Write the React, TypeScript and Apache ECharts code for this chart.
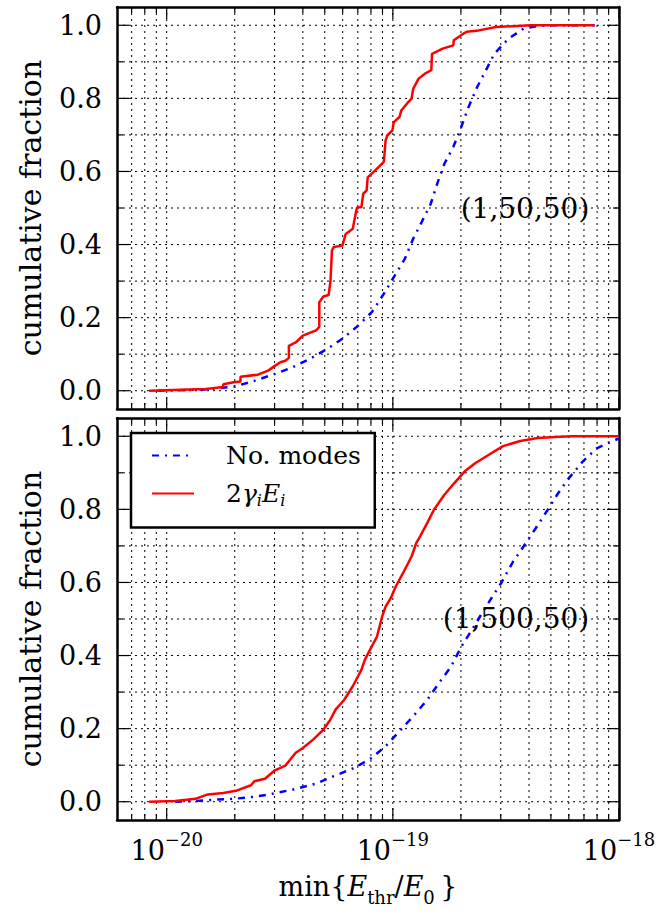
import React, { useEffect, useRef } from "react";
import * as echarts from "echarts";

// ---- axes ----
const X_MIN = 6.03e-21;
const X_MAX = 1e-18;
const Y_MIN = -0.05;
const Y_MAX = 1.05;
const X_MAJOR = [1e-20, 1e-19, 1e-18];
const X_MINOR = [
  7e-21, 8e-21, 9e-21,
  2e-20, 3e-20, 4e-20, 5e-20, 6e-20, 7e-20, 8e-20, 9e-20,
  2e-19, 3e-19, 4e-19, 5e-19, 6e-19, 7e-19, 8e-19, 9e-19,
];
const Y_MAJOR = [0, 0.2, 0.4, 0.6, 0.8, 1.0];
const Y_MINOR = [0.1, 0.3, 0.5, 0.7, 0.9];

const SERIES_NAMES = ["No. modes", "2γᵢEᵢ"];
const PANEL_LABELS = ["(1,50,50)", "(1,500,50)"];
const Y_LABEL = "cumulative fraction";

// ---- data: top panel (1,50,50) ----
const NO_MODES_TOP: [number, number][] = [
  [9.12e-21, 0], [1.44e-20, 0.003], [1.98e-20, 0.011], [2.44e-20, 0.027],
  [3.01e-20, 0.046], [3.6e-20, 0.064], [4.29e-20, 0.087], [5.11e-20, 0.114],
  [5.98e-20, 0.142], [7.02e-20, 0.178], [8.07e-20, 0.215], [9.12e-20, 0.265],
  [1.01e-19, 0.311], [1.13e-19, 0.361], [1.23e-19, 0.416], [1.34e-19, 0.461],
  [1.47e-19, 0.511], [1.57e-19, 0.566], [1.69e-19, 0.621], [1.85e-19, 0.667],
  [1.98e-19, 0.712], [2.16e-19, 0.776], [2.36e-19, 0.831], [2.58e-19, 0.877],
  [2.81e-19, 0.922], [3.24e-19, 0.963], [3.79e-19, 0.991], [4.37e-19, 0.998],
  [4.84e-19, 1.0], [7.8e-19, 1.0],
];
const GAMMA_E_TOP: [number, number][] = [
  [8.36e-21, 0], [1.49e-20, 0.005], [1.78e-20, 0.01], [1.78e-20, 0.018],
  [1.98e-20, 0.023], [2.12e-20, 0.025], [2.12e-20, 0.038], [2.53e-20, 0.044],
  [2.81e-20, 0.055], [3.01e-20, 0.068], [3.18e-20, 0.078], [3.35e-20, 0.082],
  [3.47e-20, 0.09], [3.47e-20, 0.123], [3.72e-20, 0.132], [4.0e-20, 0.151],
  [4.6e-20, 0.166], [4.73e-20, 0.175], [4.73e-20, 0.242], [4.93e-20, 0.258],
  [5.2e-20, 0.262], [5.3e-20, 0.3], [5.38e-20, 0.384], [5.48e-20, 0.393],
  [5.98e-20, 0.397], [6.19e-20, 0.429], [6.65e-20, 0.443], [6.89e-20, 0.493],
  [6.97e-20, 0.502], [7.26e-20, 0.502], [7.4e-20, 0.539], [7.66e-20, 0.548],
  [7.74e-20, 0.584], [8.36e-20, 0.603], [9.12e-20, 0.626], [9.29e-20, 0.685],
  [9.46e-20, 0.699], [9.95e-20, 0.712], [1.01e-19, 0.735], [1.07e-19, 0.749],
  [1.09e-19, 0.767], [1.17e-19, 0.79], [1.21e-19, 0.799], [1.23e-19, 0.826],
  [1.3e-19, 0.854], [1.39e-19, 0.868], [1.48e-19, 0.877], [1.49e-19, 0.922],
  [1.66e-19, 0.936], [1.85e-19, 0.945], [1.86e-19, 0.959], [2.05e-19, 0.977],
  [2.12e-19, 0.982], [2.4e-19, 0.986], [2.86e-19, 0.995], [4.06e-19, 1.0],
  [7.8e-19, 1.0],
];

// ---- data: bottom panel (1,500,50) ----
const NO_MODES_BOTTOM: [number, number][] = [
  [1.09e-20, 0], [1.34e-20, 0.002], [1.66e-20, 0.006], [1.98e-20, 0.008],
  [2.48e-20, 0.014], [3.01e-20, 0.023], [3.72e-20, 0.035], [4.6e-20, 0.05],
  [5.48e-20, 0.07], [6.78e-20, 0.093], [8.07e-20, 0.12], [9.29e-20, 0.152],
  [1.07e-19, 0.193], [1.23e-19, 0.234], [1.42e-19, 0.279], [1.6e-19, 0.325],
  [1.81e-19, 0.37], [2.01e-19, 0.425], [2.24e-19, 0.471], [2.48e-19, 0.516],
  [2.76e-19, 0.562], [3.01e-19, 0.598], [3.41e-19, 0.658], [3.79e-19, 0.699],
  [4.29e-19, 0.749], [4.84e-19, 0.799], [5.38e-19, 0.844], [5.98e-19, 0.884],
  [6.89e-19, 0.93], [7.93e-19, 0.966], [8.81e-19, 0.98], [1.0e-18, 0.994],
];
const GAMMA_E_BOTTOM: [number, number][] = [
  [8.36e-21, 0], [1.09e-20, 0.002], [1.34e-20, 0.008], [1.52e-20, 0.02],
  [1.78e-20, 0.024], [2.05e-20, 0.031], [2.36e-20, 0.045], [2.44e-20, 0.056],
  [2.72e-20, 0.063], [3.01e-20, 0.086], [3.35e-20, 0.099], [3.72e-20, 0.134],
  [4.0e-20, 0.147], [4.44e-20, 0.17], [4.93e-20, 0.197], [5.3e-20, 0.225],
  [5.58e-20, 0.252], [6.1e-20, 0.279], [6.65e-20, 0.316], [7.26e-20, 0.361],
  [7.52e-20, 0.388], [8.07e-20, 0.425], [8.51e-20, 0.452], [8.97e-20, 0.507],
  [9.29e-20, 0.534], [9.79e-20, 0.557], [1.03e-19, 0.589], [1.11e-19, 0.626],
  [1.21e-19, 0.671], [1.27e-19, 0.708], [1.32e-19, 0.726], [1.42e-19, 0.763],
  [1.52e-19, 0.799], [1.69e-19, 0.84], [1.87e-19, 0.872], [2.08e-19, 0.904],
  [2.32e-19, 0.927], [2.67e-19, 0.95], [3.07e-19, 0.973], [3.66e-19, 0.987],
  [4.37e-19, 0.995], [5.2e-19, 0.998], [6.19e-19, 1.0], [1.0e-18, 1.0],
];

const FONT = "'DejaVu Serif', serif";
const BLUE = "#0000ff";
const RED = "#ff0000";
const GRIDS = [
  { left: 117, top: 7, width: 502, height: 402 },
  { left: 117, top: 418, width: 502, height: 402 },
];
const MAJOR_LEN = 12;
const MINOR_LEN = 6;

const supMinus = (n: number) => (n < 0 ? "\u2212" + Math.abs(n) : String(n));
const frameLine = { show: true, onZero: false, lineStyle: { color: "#000", width: 2.5 } };

function xAxesFor(gi: number, showLabels: boolean) {
  const base = {
    type: "log",
    gridIndex: gi,
    min: X_MIN,
    max: X_MAX,
    splitLine: { show: false },
    axisTick: { show: false },
    axisLabel: { show: false },
    axisLine: frameLine,
  };
  const bottom: any = { ...base, position: "bottom" };
  if (showLabels) {
    bottom.axisLabel = {
      show: true,
      customValues: X_MAJOR,
      margin: 10,
      formatter: (v: number) => `{b|10}{s|${supMinus(Math.round(Math.log10(v)))}}`,
      rich: {
        b: { fontFamily: FONT, fontSize: 27, color: "#000", lineHeight: 34, verticalAlign: "bottom" },
        s: { fontFamily: FONT, fontSize: 18, color: "#000", lineHeight: 18, verticalAlign: "top" },
      },
    };
    bottom.name = "{n|min{}{it|E}{sub|thr}{n|/}{it|E}{sub|0}{n|\u2009}}";
    bottom.nameLocation = "middle";
    bottom.nameGap = 46;
    bottom.nameTextStyle = {
      fontFamily: FONT,
      fontSize: 27,
      color: "#000",
      rich: {
        n: { fontFamily: FONT, fontSize: 27, color: "#000", lineHeight: 40, verticalAlign: "middle" },
        it: { fontFamily: FONT, fontStyle: "italic", fontSize: 27, color: "#000", lineHeight: 40, verticalAlign: "middle" },
        sub: { fontFamily: FONT, fontSize: 18, color: "#000", lineHeight: 18, verticalAlign: "bottom" },
      },
    };
  }
  return [bottom, { ...base, position: "top" }];
}

function yAxesFor(gi: number) {
  const base = {
    type: "value",
    gridIndex: gi,
    min: Y_MIN,
    max: Y_MAX,
    splitLine: { show: false },
    axisTick: { show: false },
    axisLabel: { show: false },
    axisLine: frameLine,
  };
  return [
    {
      ...base,
      position: "left",
      axisLabel: {
        show: true,
        customValues: Y_MAJOR,
        formatter: (v: number) => v.toFixed(1),
        fontFamily: FONT,
        fontSize: 27,
        color: "#000",
        margin: 15,
      },
      name: Y_LABEL,
      nameLocation: "middle",
      nameRotate: 90,
      nameGap: 72,
      nameTextStyle: { fontFamily: FONT, fontSize: 30, color: "#000" },
    },
    { ...base, position: "right" },
  ];
}

const dotted = { stroke: "#000", lineWidth: 1, lineDash: [2, 4] };
const tickStyle = { stroke: "#000", lineWidth: 1.2 };

// vertical grid lines + x ticks (bottom & top), positioned via the log axis
function renderXTicks(params: any, api: any) {
  const cs = params.coordSys;
  const x = api.coord([api.value(0), 0.5])[0];
  const len = api.value(2) ? MAJOR_LEN : MINOR_LEN;
  const top = cs.y;
  const bottom = cs.y + cs.height;
  const children: any[] = [];
  if (x > cs.x + 1 && x < cs.x + cs.width - 1) {
    children.push({ type: "line", shape: { x1: x, y1: top, x2: x, y2: bottom }, style: dotted });
  }
  children.push({ type: "line", shape: { x1: x, y1: bottom, x2: x, y2: bottom - len }, style: tickStyle });
  children.push({ type: "line", shape: { x1: x, y1: top, x2: x, y2: top + len }, style: tickStyle });
  return { type: "group", children };
}

// horizontal grid lines + y ticks (left & right), positioned via the value axis
function renderYTicks(params: any, api: any) {
  const cs = params.coordSys;
  const y = api.coord([1e-19, api.value(1)])[1];
  const len = api.value(2) ? MAJOR_LEN : MINOR_LEN;
  const left = cs.x;
  const right = cs.x + cs.width;
  return {
    type: "group",
    children: [
      { type: "line", shape: { x1: left, y1: y, x2: right, y2: y }, style: dotted },
      { type: "line", shape: { x1: left, y1: y, x2: left + len, y2: y }, style: tickStyle },
      { type: "line", shape: { x1: right, y1: y, x2: right - len, y2: y }, style: tickStyle },
    ],
  };
}

function panelSeries(gi: number, blue: [number, number][], red: [number, number][]) {
  const ax = gi * 2;
  return [
    {
      type: "custom",
      name: "xgrid" + gi,
      xAxisIndex: ax,
      yAxisIndex: ax,
      silent: true,
      clip: false,
      z: 1,
      renderItem: renderXTicks,
      data: [...X_MAJOR.map((v) => [v, 0.5, 1]), ...X_MINOR.map((v) => [v, 0.5, 0])],
    },
    {
      type: "custom",
      name: "ygrid" + gi,
      xAxisIndex: ax,
      yAxisIndex: ax,
      silent: true,
      clip: false,
      z: 1,
      renderItem: renderYTicks,
      data: [...Y_MAJOR.map((v) => [1e-19, v, 1]), ...Y_MINOR.map((v) => [1e-19, v, 0])],
    },
    {
      type: "line",
      name: SERIES_NAMES[0],
      xAxisIndex: ax,
      yAxisIndex: ax,
      data: blue,
      showSymbol: false,
      symbol: "none",
      clip: true,
      z: 3,
      lineStyle: { color: BLUE, width: 2.5, type: [7, 6, 2, 6] },
      itemStyle: { color: BLUE },
      emphasis: { disabled: true },
    },
    {
      type: "line",
      name: SERIES_NAMES[1],
      xAxisIndex: ax,
      yAxisIndex: ax,
      data: red,
      showSymbol: false,
      symbol: "none",
      clip: true,
      z: 4,
      lineStyle: { color: RED, width: 2.5 },
      itemStyle: { color: RED },
      emphasis: { disabled: true },
    },
  ];
}

export default function App() {
  const ref = useRef<HTMLDivElement>(null);
  useEffect(() => {
    if (!ref.current) return;
    const chart = echarts.init(ref.current, null, { renderer: "svg" });
    const option: any = {
      animation: false,
      backgroundColor: "#ffffff",
      grid: GRIDS,
      xAxis: [...xAxesFor(0, false), ...xAxesFor(1, true)],
      yAxis: [...yAxesFor(0), ...yAxesFor(1)],
      legend: {
        data: SERIES_NAMES,
        left: 131,
        top: 433,
        orient: "vertical",
        selectedMode: false,
        itemWidth: 42,
        itemHeight: 30,
        itemGap: 13,
        padding: [10, 14, 19, 20],
        borderColor: "#000",
        borderWidth: 2.5,
        borderRadius: 0,
        backgroundColor: "#ffffff",
        z: 20,
        itemStyle: { color: "rgba(0,0,0,0)", borderColor: "rgba(0,0,0,0)", borderWidth: 0, opacity: 0 },
        formatter: (name: string) =>
          name === SERIES_NAMES[0] ? `{n|${name}}` : "{n|2}{it|γ}{sub|i}{it|E}{sub|i}",
        textStyle: {
          fontFamily: FONT,
          fontSize: 25,
          color: "#000",
          padding: [0, 0, 0, 27],
          rich: {
            n: { fontFamily: FONT, fontSize: 25, color: "#000", lineHeight: 30, verticalAlign: "middle" },
            it: { fontFamily: FONT, fontStyle: "italic", fontSize: 25, color: "#000", lineHeight: 30, verticalAlign: "middle" },
            sub: { fontFamily: FONT, fontStyle: "italic", fontSize: 16, color: "#000", lineHeight: 16, verticalAlign: "bottom" },
          },
        },
      },
      graphic: [
        {
          type: "text",
          x: 525,
          y: 208,
          z: 10,
          style: { text: PANEL_LABELS[0], fontFamily: FONT, fontSize: 28, fill: "#000", align: "center", verticalAlign: "middle" },
        },
        {
          type: "text",
          x: 516,
          y: 618,
          z: 10,
          style: { text: PANEL_LABELS[1], fontFamily: FONT, fontSize: 28, fill: "#000", align: "center", verticalAlign: "middle" },
        },
      ],
      series: [
        ...panelSeries(0, NO_MODES_TOP, GAMMA_E_TOP),
        ...panelSeries(1, NO_MODES_BOTTOM, GAMMA_E_BOTTOM),
      ],
    };
    chart.setOption(option);
    return () => chart.dispose();
  }, []);
  return (
    <div
      ref={ref}
      style={{ position: "absolute", left: 0, top: 0, width: 670, height: 916, background: "#fff" }}
    />
  );
}
